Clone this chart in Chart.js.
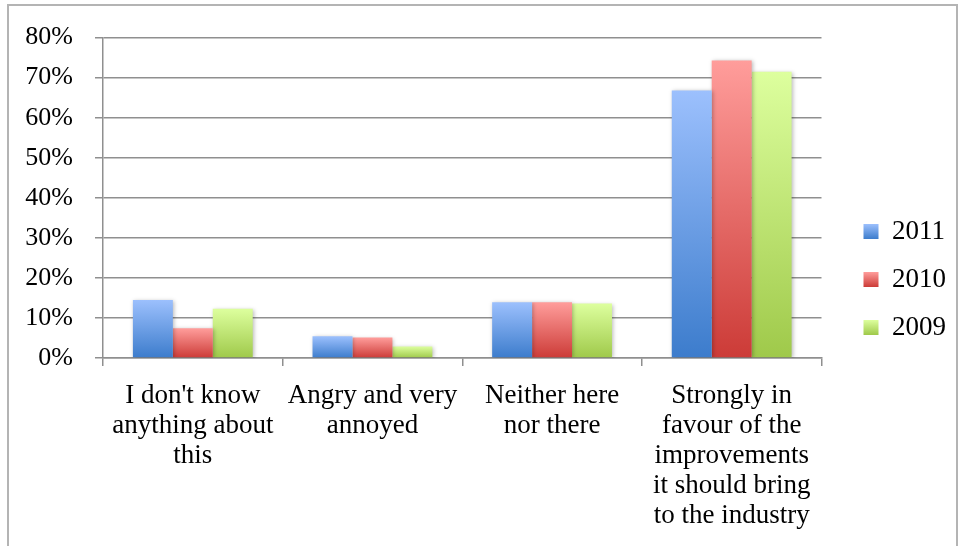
<!DOCTYPE html>
<html lang="en">
<head>
    <meta charset="UTF-8">
    <title>Attitudes 2009-2011</title>
    <script src="https://cdn.jsdelivr.net/npm/chart.js"></script>
    <style>
        body { margin: 0; background: #fff; }
        canvas { display: block; }
    </style>
</head>
<body>
    <canvas id="surveyChart" width="960" height="546"></canvas>

    <script>
        // Chart data
        const categories = [
            ["I don't know", "anything about", "this"],
            ["Angry and very", "annoyed"],
            ["Neither here", "nor there"],
            ["Strongly in", "favour of the", "improvements", "it should bring", "to the industry"]
        ];
        const seriesNames = ["2011", "2010", "2009"];
        const values2011 = [14.5, 5.4, 13.9, 66.8];
        const values2010 = [7.4, 5.1, 13.9, 74.3];
        const values2009 = [12.3, 2.9, 13.6, 71.5];
        const yTicks = [0, 10, 20, 30, 40, 50, 60, 70, 80];

        // gradient colours, bottom -> top
        const palette = [
            { bottom: "#3c7ccc", top: "#9cc0fd", mid: "#6b9de6" },
            { bottom: "#cc3b37", top: "#ff9d9b", mid: "#e76a67" },
            { bottom: "#9fc94a", top: "#ddff9e", mid: "#bfe475" }
        ];

        const fontFamily = "'Liberation Serif', 'Times New Roman', serif";
        const gridColor = "#8f8f8f";

        function barFill(i) {
            return function (ctx) {
                const chart = ctx.chart;
                if (!chart.chartArea || ctx.type !== "data" || !ctx.parsed) return palette[i].mid;
                const y = chart.scales.y;
                const top = y.getPixelForValue(ctx.parsed.y);
                const base = y.getPixelForValue(0);
                if (!isFinite(top) || !isFinite(base) || top === base) return palette[i].mid;
                const g = chart.ctx.createLinearGradient(0, base, 0, top);
                g.addColorStop(0, palette[i].bottom);
                g.addColorStop(1, palette[i].top);
                return g;
            };
        }

        // outer frame of the chart
        const framePlugin = {
            id: "frame",
            beforeDraw(chart) {
                const c = chart.ctx;
                c.save();
                c.fillStyle = "#fff";
                c.fillRect(0, 0, chart.width, chart.height);
                c.strokeStyle = "#b4b4b4";
                c.lineWidth = 2;
                c.strokeRect(8, 5, 949, 600);
                c.restore();
            }
        };

        // soft drop shadow behind the bars
        const shadowPlugin = {
            id: "barShadow",
            beforeDatasetsDraw(chart) {
                const c = chart.ctx;
                c.save();
                c.shadowColor = "rgba(0,0,0,0.28)";
                c.shadowBlur = 4;
                c.shadowOffsetX = 1;
                c.shadowOffsetY = 1;
            },
            afterDatasetsDraw(chart) {
                chart.ctx.restore();
            }
        };

        // nudge the legend up a bit and give its boxes the same gradient as the bars
        const legendPlugin = {
            id: "legendTweak",
            afterLayout(chart) {
                const lg = chart.legend;
                if (!lg) return;
                lg.top -= 11;
                lg.bottom -= 11;
            },
            beforeDraw(chart) {
                const lg = chart.legend;
                if (!lg || !lg.legendItems) return;
                lg.legendItems.forEach((it, i) => {
                    const b = lg.legendHitBoxes[i];
                    if (!b) return;
                    const boxH = lg.options.labels.boxHeight;
                    const y0 = b.top + (b.height - boxH) / 2;
                    const g = chart.ctx.createLinearGradient(0, y0 + boxH, 0, y0);
                    g.addColorStop(0, palette[i].bottom);
                    g.addColorStop(1, palette[i].top);
                    it.fillStyle = g;
                });
            }
        };

        const datasetValues = [values2011, values2010, values2009];

        new Chart(document.getElementById("surveyChart").getContext("2d"), {
            type: "bar",
            data: {
                labels: categories,
                datasets: seriesNames.map((name, i) => ({
                    label: name,
                    data: datasetValues[i],
                    backgroundColor: barFill(i),
                    borderWidth: 0,
                    categoryPercentage: 0.667,
                    barPercentage: 1.0
                }))
            },
            options: {
                responsive: false,
                animation: false,
                layout: { padding: { top: 35, left: 0, right: 4, bottom: 0 } },
                plugins: {
                    tooltip: { enabled: false },
                    legend: {
                        position: "right",
                        align: "center",
                        labels: {
                            color: "#000",
                            font: { family: fontFamily, size: 27 },
                            boxWidth: 15,
                            boxHeight: 15,
                            padding: 21,
                            generateLabels(chart) {
                                const items = Chart.defaults.plugins.legend.labels.generateLabels(chart);
                                items.forEach((it, i) => {
                                    it.fillStyle = palette[i].mid;
                                    it.strokeStyle = "rgba(0,0,0,0)";
                                    it.lineWidth = 0;
                                });
                                return items;
                            }
                        }
                    }
                },
                scales: {
                    x: {
                        grid: {
                            offset: true,
                            drawOnChartArea: false,
                            drawTicks: true,
                            tickLength: 8,
                            color: gridColor,
                            lineWidth: 1.5
                        },
                        border: { color: gridColor, width: 1.5 },
                        ticks: {
                            color: "#000",
                            font: { family: fontFamily, size: 27, lineHeight: "30px" },
                            padding: 15,
                            maxRotation: 0,
                            autoSkip: false
                        },
                        afterFit(scale) { scale.height = 188; }
                    },
                    y: {
                        min: 0,
                        max: 80,
                        afterBuildTicks(scale) {
                            scale.ticks = yTicks.map(v => ({ value: v }));
                        },
                        grid: {
                            color: gridColor,
                            lineWidth: 1.5,
                            tickLength: 8
                        },
                        border: { color: gridColor, width: 1.5 },
                        ticks: {
                            color: "#000",
                            font: { family: fontFamily, size: 26 },
                            padding: 22,
                            callback: v => v + "%"
                        },
                        afterFit(scale) { scale.width = 103; }
                    },
                    // empty axis: keeps the legend away from the plot
                    gap: {
                        position: "right",
                        axis: "y",
                        display: true,
                        grid: { display: false },
                        border: { display: false },
                        ticks: { display: false },
                        afterFit(scale) { scale.width = 21; }
                    }
                }
            },
            plugins: [framePlugin, shadowPlugin, legendPlugin]
        });
    </script>
</body>
</html>
